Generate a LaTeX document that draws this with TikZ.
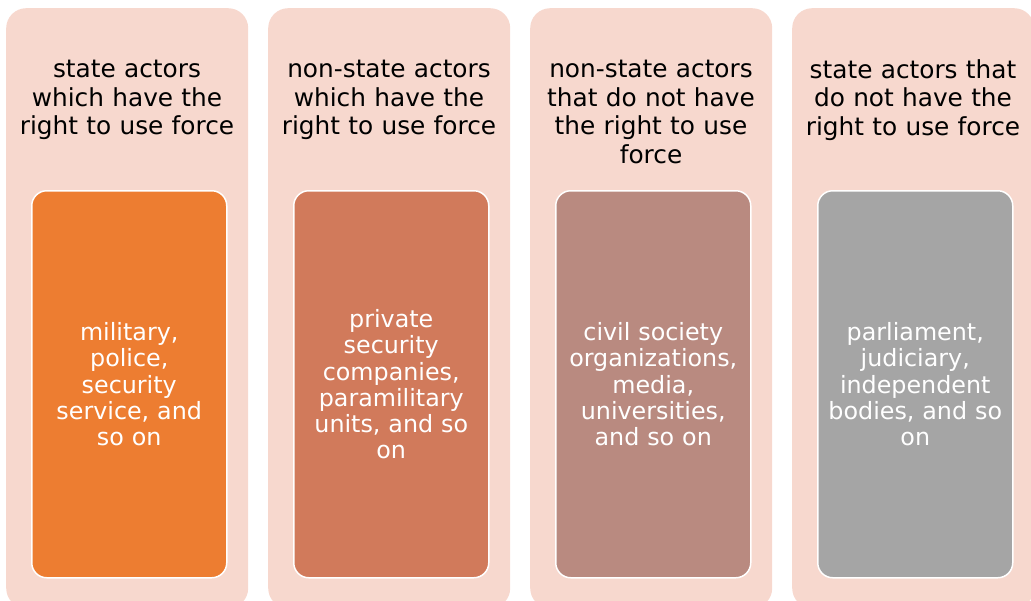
\documentclass[tikz,border=0pt]{standalone}
\usepackage{fontspec}
\setmainfont{DejaVu Sans}
\usetikzlibrary{positioning}

\definecolor{panelpink}{HTML}{F7D8CE}
\definecolor{actorA}{HTML}{ED7D31}
\definecolor{actorB}{HTML}{D17A5B}
\definecolor{actorC}{HTML}{B98A80}
\definecolor{actorD}{HTML}{A5A5A5}

\tikzset{
  panel/.style={fill=panelpink, rounded corners=20pt, anchor=north west,
    minimum width=242pt, minimum height=600pt, inner sep=0pt},
  heading/.style={anchor=north, align=center, text width=238pt, inner sep=0pt,
    font=\fontsize{24.8}{28.6}\selectfont},
  group/.style={draw=white, line width=1.5pt, rounded corners=15pt,
    minimum width=195pt, minimum height=387pt, anchor=north west,
    text=white, align=center, text width=190pt, inner sep=0pt,
    font=\fontsize{23.8}{26.2}\selectfont}
}

\begin{document}
\begin{tikzpicture}[x=1pt,y=-1pt]
  \useasboundingbox (0,0) rectangle (1031,600);

  % background panels
  \node[panel] (p1) at (6,8) {};
  \node[panel] (p2) at (268,8) {};
  \node[panel] (p3) at (530,8) {};
  \node[panel] (p4) at (792,8) {};

  % headings
  \node[heading] (h1) at (127,60) {state actors\\which have the\\right to use force};
  \node[heading] (h2) at (389,60) {non-state actors\\which have the\\right to use force};
  \node[heading] (h3) at (651,60) {non-state actors\\that do not have\\the right to use\\force};
  \node[heading] (h4) at (913,59) {state actors that\\do not have the\\right to use force};

  % inner boxes
  \node[group, fill=actorA] (g1) at (31,190) {military,\\police,\\security\\service, and\\so on};
  \node[group, fill=actorB] (g2) at (293,190) {private\\security\\companies,\\paramilitary\\units, and so\\on};
  \node[group, fill=actorC] (g3) at (555,190) {civil society\\organizations,\\media,\\universities,\\and so on};
  \node[group, fill=actorD] (g4) at (817,190) {parliament,\\judiciary,\\independent\\bodies, and so\\on};
\end{tikzpicture}
\end{document}
